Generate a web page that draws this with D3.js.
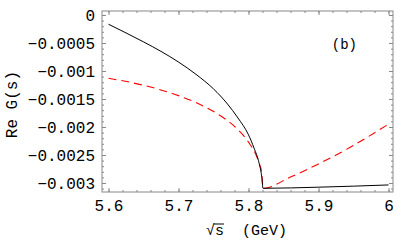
<!DOCTYPE html>
<html>
<head>
<meta charset="utf-8">
<script src="https://cdn.jsdelivr.net/npm/d3@7"></script>
<style>
  body { margin: 0; background: #fff; }
  text { font-family: "Liberation Mono", "DejaVu Sans Mono", monospace; fill: #000; }
</style>
</head>
<body>
<div id="chart"></div>
<script>
// black solid curve: sqrt(s) (GeV) and Re G(s)
const blackS = [5.6, 5.625, 5.65, 5.675, 5.7, 5.725, 5.75, 5.77, 5.785, 5.8, 5.808, 5.815, 5.819, 5.8207, 5.9, 6.0];
const blackG = [-0.000165, -0.00032, -0.00048, -0.00065, -0.00084, -0.00106, -0.00132, -0.00159, -0.00184, -0.00214, -0.00238, -0.00264, -0.0029, -0.003095, -0.003075, -0.003035];

// red dashed curve
const redS = [5.6, 5.65, 5.7, 5.74, 5.76, 5.78, 5.8, 5.81, 5.815, 5.819, 5.8207, 5.86, 5.9, 5.94, 5.97, 6.0];
const redG = [-0.00113, -0.001255, -0.00144, -0.001655, -0.0018, -0.00199, -0.00227, -0.00248, -0.00264, -0.00283, -0.003095, -0.002894, -0.00266, -0.0024, -0.00218, -0.00195];

const xTicks = [5.6, 5.7, 5.8, 5.9, 6];
const xTickLabels = ["5.6", "5.7", "5.8", "5.9", "6"];
const yTicks = [0, -0.0005, -0.001, -0.0015, -0.002, -0.0025, -0.003];
const yTickLabels = ["0", "\u22120.0005", "\u22120.001", "\u22120.0015", "\u22120.002", "\u22120.0025", "\u22120.003"];

const width = 397, height = 245;
const margin = { top: 11, right: 4, bottom: 53, left: 102 };
const w = width - margin.left - margin.right;
const h = height - margin.top - margin.bottom;

const svg = d3.select('#chart').append('svg')
  .attr('width', width)
  .attr('height', height);

const g = svg.append('g')
  .attr('transform', 'translate(' + margin.left + ',' + margin.top + ')');

const x = d3.scaleLinear().domain([5.5907, 6.0064]).range([0, w]);
const y = d3.scaleLinear().domain([-0.003161, 0.0000714]).range([h, 0]);

// minor tick positions
const xMinor = d3.range(5.6, 6.001, 0.02);
const yMinor = d3.range(0, -0.00315, -0.0001);

const frameColor = '#888';

function styleAxis(sel) {
  sel.select('.domain').remove();
  sel.selectAll('.tick line').attr('stroke', frameColor);
  sel.selectAll('text').style('font-size', '16px').attr('fill', '#000');
}

// bottom
g.append('g').attr('transform', 'translate(0,' + h + ')')
  .call(d3.axisBottom(x).tickValues(xMinor).tickSize(-2).tickFormat(''))
  .call(styleAxis);
g.append('g').attr('transform', 'translate(0,' + h + ')')
  .call(d3.axisBottom(x).tickValues(xTicks).tickSize(-4).tickPadding(8)
    .tickFormat((d, i) => xTickLabels[i]))
  .call(styleAxis);
// top
g.append('g')
  .call(d3.axisTop(x).tickValues(xMinor).tickSize(-2).tickFormat(''))
  .call(styleAxis);
g.append('g')
  .call(d3.axisTop(x).tickValues(xTicks).tickSize(-4).tickFormat(''))
  .call(styleAxis);
// left
g.append('g')
  .call(d3.axisLeft(y).tickValues(yMinor).tickSize(-2).tickFormat(''))
  .call(styleAxis);
g.append('g')
  .call(d3.axisLeft(y).tickValues(yTicks).tickSize(-4).tickPadding(7)
    .tickFormat((d, i) => yTickLabels[i]))
  .call(styleAxis);
// right
g.append('g').attr('transform', 'translate(' + w + ',0)')
  .call(d3.axisRight(y).tickValues(yMinor).tickSize(-2).tickFormat(''))
  .call(styleAxis);
g.append('g').attr('transform', 'translate(' + w + ',0)')
  .call(d3.axisRight(y).tickValues(yTicks).tickSize(-4).tickFormat(''))
  .call(styleAxis);

// frame
g.append('rect')
  .attr('x', 0).attr('y', 0)
  .attr('width', w).attr('height', h)
  .attr('fill', 'none')
  .attr('stroke', frameColor)
  .attr('stroke-width', 1);

const line = d3.line()
  .x(d => x(d[0]))
  .y(d => y(d[1]))
  .curve(d3.curveMonotoneX);

g.append('path')
  .datum(redS.map((s, i) => [s, redG[i]]))
  .attr('fill', 'none')
  .attr('stroke', '#ff0000')
  .attr('stroke-width', 1.1)
  .attr('stroke-dasharray', '8,5')
  .attr('d', line);

g.append('path')
  .datum(blackS.map((s, i) => [s, blackG[i]]))
  .attr('fill', 'none')
  .attr('stroke', '#000')
  .attr('stroke-width', 1)
  .attr('d', line);

// panel label
g.append('text')
  .attr('x', x(5.937))
  .attr('y', y(-0.0006))
  .attr('text-anchor', 'middle')
  .style('font-size', '14px')
  .text('(b)');

// x title with root sign
const xt = svg.append('text')
  .attr('x', margin.left + x(5.797))
  .attr('y', 235)
  .attr('text-anchor', 'middle')
  .style('font-size', '15px');
xt.append('tspan').text('\u221A');
const sSpan = xt.append('tspan').text('s');
xt.append('tspan').text('  (GeV)').attr('xml:space', 'preserve').style('white-space', 'pre');

// overline over s
const bb = sSpan.node().getBBox();
svg.append('line')
  .attr('x1', bb.x - 1).attr('x2', bb.x + bb.width)
  .attr('y1', bb.y + 1).attr('y2', bb.y + 1)
  .attr('stroke', '#000').attr('stroke-width', 1);

// y title
svg.append('text')
  .attr('transform', 'translate(17,' + (margin.top + y(-0.0016)) + ') rotate(-90)')
  .attr('text-anchor', 'middle')
  .style('font-size', '16px')
  .text('Re G(s)');
</script>
</body>
</html>
